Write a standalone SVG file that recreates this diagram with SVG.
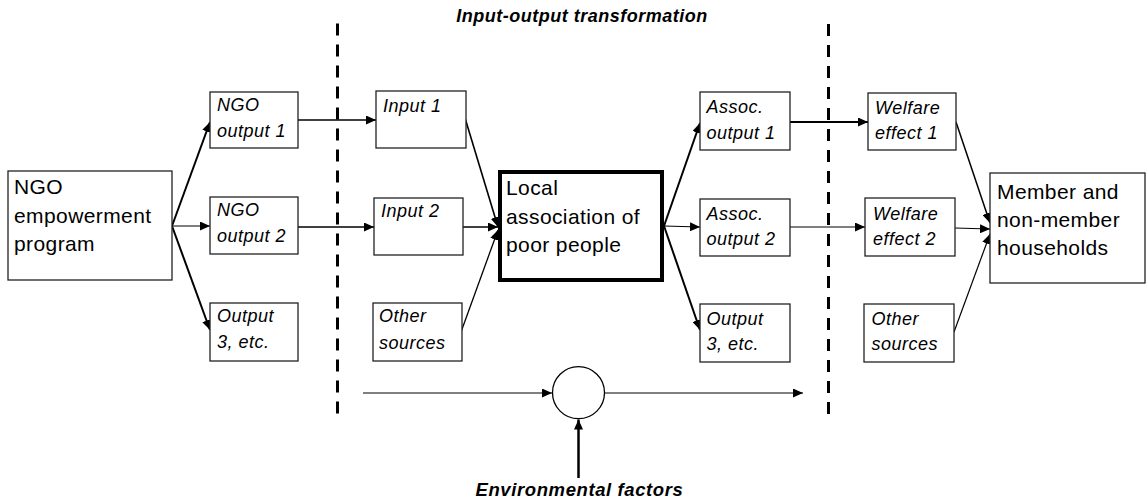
<svg xmlns="http://www.w3.org/2000/svg" width="1146" height="501" viewBox="0 0 1146 501">
<style>
.box{fill:#fff;stroke:#222;stroke-width:1.3}
.main{fill:#fff;stroke:#000;stroke-width:4}
.t{font-family:"Liberation Sans",Arial,sans-serif;font-size:21px;letter-spacing:0.4px;fill:#000}
.s{font-family:"Liberation Sans",Arial,sans-serif;font-size:18px;font-style:italic;letter-spacing:0.5px;fill:#000}
.h{font-family:"Liberation Sans",Arial,sans-serif;font-size:18px;font-style:italic;font-weight:bold;letter-spacing:0.5px;fill:#000}
.c{fill:none;stroke:#000;marker-end:url(#ah)}
.dash{fill:none;stroke:#000;stroke-width:3;stroke-dasharray:12 9}
</style>
<defs>
<marker id="ah" markerUnits="userSpaceOnUse" markerWidth="11" markerHeight="9" refX="10" refY="4.5" orient="auto">
<path d="M0,0 L10,4.5 L0,9 z" fill="#000"/>
</marker>
</defs>
<rect width="1146" height="501" fill="#fff"/>
<text class="h" x="582" y="22" text-anchor="middle">Input-output transformation</text>
<text class="h" x="579.5" y="496" text-anchor="middle" style="font-size:18.5px;letter-spacing:0.6px">Environmental factors</text>
<g id="dividers">
<line class="dash" x1="337.5" y1="23.5" x2="337.5" y2="414"/>
<line class="dash" x1="828.5" y1="24" x2="828.5" y2="414"/>
</g>
<g id="connectors">
<line class="c" stroke-width="2" x1="172" y1="226" x2="210" y2="122"/>
<line class="c" stroke-width="1.2" x1="172" y1="226" x2="210" y2="226"/>
<line class="c" stroke-width="2" x1="172" y1="226" x2="210" y2="330"/>
<line class="c" stroke-width="1.3" x1="298" y1="120" x2="376" y2="120"/>
<line class="c" stroke-width="1.3" x1="298" y1="227" x2="374" y2="227"/>
<line class="c" stroke-width="1.6" x1="465" y1="118" x2="498" y2="227"/>
<line class="c" stroke-width="1.3" x1="463" y1="227" x2="498" y2="227"/>
<line class="c" stroke-width="1.3" x1="461" y1="332" x2="498" y2="230"/>
<line class="c" stroke-width="2" x1="664" y1="226" x2="700" y2="123"/>
<line class="c" stroke-width="1.2" x1="664" y1="226" x2="700" y2="227"/>
<line class="c" stroke-width="2" x1="664" y1="226" x2="700" y2="330"/>
<line class="c" stroke-width="2" x1="790" y1="122" x2="868" y2="122"/>
<line class="c" stroke-width="1.2" x1="790" y1="227" x2="865" y2="227"/>
<line class="c" stroke-width="1.5" x1="956" y1="122" x2="990" y2="223"/>
<line class="c" stroke-width="1.2" x1="955" y1="228" x2="990" y2="229"/>
<line class="c" stroke-width="1.2" x1="954" y1="332" x2="990" y2="234"/>
<line class="c" stroke-width="1.2" x1="363" y1="393" x2="552" y2="393"/>
<line class="c" stroke-width="1.2" x1="605" y1="393" x2="803" y2="393"/>
<line class="c" stroke-width="2.5" x1="578.5" y1="478" x2="578.5" y2="419.5"/>
</g>
<g id="program"><rect class="box" x="8" y="171" width="164" height="109"/>
<text class="t" x="14" y="193.5">NGO</text><text class="t" x="14" y="222.5">empowerment</text><text class="t" x="14" y="251">program</text></g>
<g id="ngo-output-1"><rect class="box" x="210" y="92" width="88" height="56"/>
<text class="s" x="217" y="110.5">NGO</text><text class="s" x="217" y="137">output 1</text></g>
<g id="ngo-output-2"><rect class="box" x="210" y="197" width="88" height="57"/>
<text class="s" x="217" y="215.5">NGO</text><text class="s" x="217" y="242">output 2</text></g>
<g id="output-3a"><rect class="box" x="210" y="303" width="88" height="58"/>
<text class="s" x="217" y="321.5">Output</text><text class="s" x="217" y="348">3, etc.</text></g>
<g id="input-1"><rect class="box" x="376" y="91" width="90" height="57"/>
<text class="s" x="383" y="112">Input 1</text></g>
<g id="input-2"><rect class="box" x="374" y="198" width="89" height="57"/>
<text class="s" x="381" y="217">Input 2</text></g>
<g id="other-sources-1"><rect class="box" x="373" y="303" width="89" height="58"/>
<text class="s" x="379" y="321.5">Other</text><text class="s" x="379" y="348.5">sources</text></g>
<g id="local-association"><rect class="main" x="500" y="172" width="162" height="108"/>
<text class="t" x="506" y="195">Local</text><text class="t" x="506" y="223.5">association of</text><text class="t" x="506" y="252">poor people</text></g>
<g id="assoc-output-1"><rect class="box" x="700" y="92" width="90" height="58"/>
<text class="s" x="706.5" y="113">Assoc.</text><text class="s" x="706.5" y="138.5">output 1</text></g>
<g id="assoc-output-2"><rect class="box" x="700" y="199" width="90" height="57"/>
<text class="s" x="706.5" y="219.5">Assoc.</text><text class="s" x="706.5" y="245">output 2</text></g>
<g id="output-3b"><rect class="box" x="700" y="304" width="90" height="58"/>
<text class="s" x="706.5" y="325">Output</text><text class="s" x="706.5" y="350">3, etc.</text></g>
<g id="welfare-1"><rect class="box" x="868" y="93" width="88" height="57"/>
<text class="s" x="875" y="114">Welfare</text><text class="s" x="875" y="138.5">effect 1</text></g>
<g id="welfare-2"><rect class="box" x="865" y="198" width="90" height="58"/>
<text class="s" x="873" y="220">Welfare</text><text class="s" x="873" y="245">effect 2</text></g>
<g id="other-sources-2"><rect class="box" x="864" y="304" width="90" height="58"/>
<text class="s" x="871.5" y="325">Other</text><text class="s" x="871.5" y="349.5">sources</text></g>
<g id="households"><rect class="box" x="990" y="173" width="155" height="110"/>
<text class="t" x="997" y="198.5">Member and</text><text class="t" x="997" y="226.5">non-member</text><text class="t" x="997" y="254.5">households</text></g>
<g id="environment-node"><circle cx="578.5" cy="392.7" r="26" fill="#fff" stroke="#000" stroke-width="1.3"/></g>
</svg>
